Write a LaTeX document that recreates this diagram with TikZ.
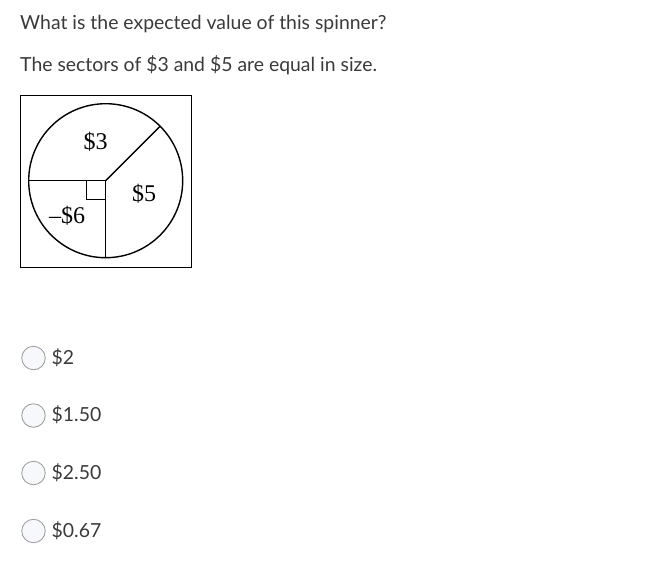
\documentclass[tikz,border=0pt]{standalone}
\usepackage{fontspec}
\setmainfont{Lato}
\newfontfamily\spinfont{Liberation Serif}
\definecolor{txt}{HTML}{3A3A3A}
\definecolor{radioedge}{HTML}{9A9A9A}
\definecolor{radiofill}{HTML}{F6F8FB}
\begin{document}
\begin{tikzpicture}[x=1pt,y=-1pt,
  qtext/.style={anchor=base west,inner sep=0pt,text=txt,font=\fontsize{19.4}{22}\selectfont},
  radio/.style={circle,draw=radioedge,fill=radiofill,line width=0.8pt,minimum size=23.5pt,inner sep=0pt},
  opt/.style={anchor=west,inner sep=0pt,text=txt,font=\fontsize{19.4}{22}\selectfont},
  spin/.style={inner sep=0pt,font=\spinfont\fontsize{24}{26}\selectfont},
  sline/.style={line width=1.4pt}]
\useasboundingbox (0,0) rectangle (655,565);
\node[qtext] (q1) at (20,29) {What is the expected value of this spinner?};
\node[qtext] (q2) at (20,71.5) {The sectors of \$3 and \$5 are equal in size.};
% spinner
\draw[line width=1pt] (20,95) rectangle (191,267);
\coordinate (c) at (105.7,180.7);
\draw[sline] (c) circle[radius=77];
\coordinate (l) at (28.7,180.7);
\coordinate (b) at (105.7,257.7);
\coordinate (ur) at (160.15,126.25);
\draw[sline] (l) -- (c) -- (b);
\draw[sline] (c) -- (ur);
\draw[sline] (86.7,180.7) -- (86.7,199.7) -- (105.7,199.7);
\node[spin] (s3) at (95.5,142) {\$3};
\node[spin] (s5) at (144,194) {\$5};
\node[spin] (s6) at (67,216) {\textendash\$6};
% options
\node[radio] (r1) at (33.5,358) {};
\node[opt] (o1) at (51.5,357.5) {\$2};
\node[radio] (r2) at (33.5,415.5) {};
\node[opt] (o2) at (51.5,415) {\$1.50};
\node[radio] (r3) at (33.5,473) {};
\node[opt] (o3) at (51.5,472.5) {\$2.50};
\node[radio] (r4) at (33.5,531) {};
\node[opt] (o4) at (51.5,530.5) {\$0.67};
\end{tikzpicture}
\end{document}
